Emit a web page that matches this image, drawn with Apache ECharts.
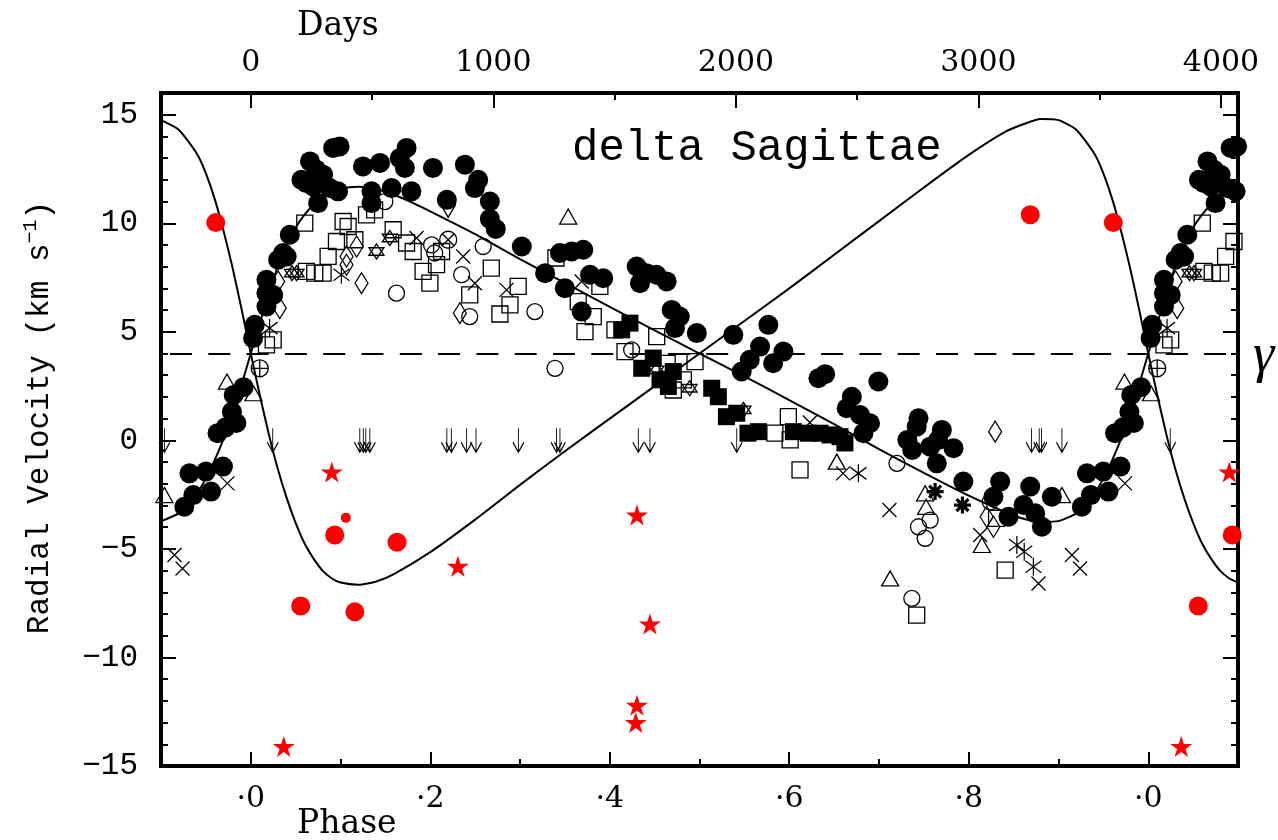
<!DOCTYPE html>
<html>
<head>
<meta charset="utf-8">
<script src="https://cdn.jsdelivr.net/npm/echarts@6/dist/echarts.min.js"></script>
<style>
  html, body { margin: 0; padding: 0; background: #fff; }
  #chart { width: 1278px; height: 840px; }
</style>
</head>
<body>
<div id="chart"></div>
<script>
// Orbital period (days) used for the upper Days axis and the systemic velocity gamma.
const periodDays = 3700;
const gammaVelocity = 4;

// Axis ticks
const phaseTicks = [0, 0.2, 0.4, 0.6, 0.8, 1.0];
const phaseMinorTicks = [0.1, 0.3, 0.5, 0.7, 0.9];
const dayTicks = [0, 1000, 2000, 3000, 4000];
const dayMinorTicks = [500, 1500, 2500, 3500];
const velocityTicks = [-15, -10, -5, 0, 5, 10, 15];
const velocityMinorTicks = [-14, -13, -12, -11, -9, -8, -7, -6, -4, -3, -2, -1,
                            1, 2, 3, 4, 6, 7, 8, 9, 11, 12, 13, 14];

// Orbit curves over one cycle: [phase, km/s]
const primaryCurve = [
  [0.00, 4.0], [0.01, 5.4], [0.02, 6.7], [0.03, 8.0], [0.04, 9.0], [0.05, 9.8],
  [0.06, 10.4], [0.07, 10.85], [0.08, 11.2], [0.09, 11.45], [0.10, 11.6], [0.12, 11.68],
  [0.14, 11.58], [0.16, 11.3], [0.18, 10.95], [0.20, 10.55], [0.25, 9.5], [0.30, 8.35],
  [0.35, 7.25], [0.40, 6.15], [0.45, 5.07], [0.50, 4.0], [0.55, 2.95], [0.60, 1.85],
  [0.65, 0.75], [0.70, -0.4], [0.75, -1.5], [0.80, -2.55], [0.84, -3.3], [0.86, -3.6],
  [0.88, -3.75], [0.90, -3.72], [0.92, -3.35], [0.94, -2.45], [0.95, -1.75], [0.96, -0.9],
  [0.97, 0.1], [0.98, 1.3], [0.99, 2.6]
];
const secondaryCurve = [
  [0.00, 4.0], [0.01, 2.1], [0.02, 0.3], [0.03, -1.3], [0.04, -2.65], [0.05, -3.8],
  [0.06, -4.75], [0.07, -5.45], [0.08, -6.0], [0.09, -6.35], [0.10, -6.55], [0.12, -6.65],
  [0.14, -6.5], [0.16, -6.15], [0.20, -5.15], [0.25, -3.65], [0.30, -2.05], [0.35, -0.5],
  [0.40, 1.0], [0.45, 2.5], [0.50, 4.0], [0.55, 5.5], [0.60, 7.0], [0.65, 8.55],
  [0.70, 10.1], [0.75, 11.65], [0.80, 13.15], [0.84, 14.2], [0.86, 14.55], [0.88, 14.8],
  [0.90, 14.75], [0.92, 14.3], [0.94, 13.2], [0.95, 12.3], [0.96, 11.1], [0.97, 9.6],
  [0.98, 7.9], [0.99, 6.0]
];

// Observations: [phase, km/s]
const filledCircles = [
  [0.8926, -2.6], [0.9317, -1.52], [0.926, -3.06], [0.936, -2.52], [0.950, -1.44], [0.9557, -2.36],
  [0.969, -1.21], [0.963, 0.33], [0.972, 0.6], [0.979, 1.32], [0.984, 0.8], [0.981, 2.09], [0.992, 2.45],
  [0.0026, 4.71], [0.0045, 5.32], [0.0175, 6.16], [0.0175, 6.78], [0.025, 6.70], [0.0175, 7.4],
  [0.0305, 8.32], [0.036, 8.63], [0.04, 8.47], [0.0435, 9.47],
  [0.0565, 12.0], [0.066, 12.85], [0.073, 12.47], [0.0806, 12.24], [0.0695, 11.7], [0.062, 11.85],
  [0.088, 11.62], [0.0973, 11.47], [0.075, 10.93], [0.0918, 13.47], [0.099, 13.54],
  [0.125, 12.62], [0.144, 12.78], [0.1345, 11.47], [0.1345, 10.93], [0.157, 11.62], [0.179, 11.47],
  [0.166, 13.0], [0.1736, 13.47], [0.1717, 12.55],
  [0.203, 12.55], [0.2185, 11.08], [0.2386, 12.7], [0.2534, 12.0], [0.2497, 11.62], [0.2664, 11.0],
  [0.2664, 10.2], [0.273, 9.74],
  [0.302, 8.93], [0.328, 7.70], [0.3445, 8.63], [0.3575, 8.70], [0.3705, 8.78], [0.350, 7.01],
  [0.378, 7.63], [0.3927, 7.47], [0.3687, 5.93], [0.430, 8.01], [0.441, 7.70], [0.452, 7.63],
  [0.4634, 7.32], [0.4337, 7.24], [0.469, 6.01], [0.478, 5.70], [0.4727, 5.17], [0.497, 4.94],
  [0.5377, 4.86], [0.5767, 5.32], [0.5675, 4.32], [0.556, 3.71], [0.5935, 4.09], [0.582, 3.55],
  [0.547, 3.17], [0.6325, 2.86], [0.64, 3.05], [0.6993, 2.71], [0.6697, 2.01], [0.664, 1.48],
  [0.6789, 1.17], [0.690, 0.79], [0.6826, 0.33],
  [0.744, 1.02], [0.742, 0.63], [0.7316, 0.02], [0.737, -0.44], [0.77, 0.48], [0.766, 0.02],
  [0.757, -0.29], [0.783, -0.36], [0.7644, -1.06], [0.794, -1.90], [0.835, -1.90], [0.8275, -2.6],
  [0.8443, -3.52], [0.8685, -2.13], [0.861, -2.98], [0.874, -3.36], [0.8815, -3.98]
];
const filledSquares = [
  [0.4133, 5.09], [0.4225, 5.40], [0.4356, 3.32], [0.4485, 3.79], [0.456, 2.79], [0.4653, 2.48],
  [0.4708, 3.17], [0.5136, 2.40], [0.521, 2.01], [0.530, 1.09], [0.5415, 1.25], [0.554, 0.33],
  [0.5656, 0.40], [0.6046, 0.40], [0.6213, 0.33], [0.6343, 0.33], [0.6455, 0.25], [0.6566, 0.17],
  [0.662, -0.12]
];
const openSquares = [
  [0.0602, 10.01], [0.1029, 10.08], [0.1085, 9.85], [0.129, 10.39], [0.138, 10.62], [0.1587, 9.70],
  [0.0955, 9.16], [0.116, 9.24], [0.0862, 8.47], [0.062, 7.78], [0.0713, 7.70], [0.0806, 7.70],
  [0.1736, 9.09], [0.181, 8.70], [0.192, 7.78], [0.1996, 7.24], [0.207, 8.09], [0.2126, 8.70],
  [0.244, 6.70], [0.268, 7.93], [0.2776, 5.82], [0.025, 4.63], [0.0175, 4.40], [0.298, 7.09],
  [0.2888, 6.24], [0.340, 8.40], [0.3649, 6.39], [0.3816, 5.70], [0.3724, 5.01], [0.389, 7.09],
  [0.4058, 5.09], [0.417, 4.09], [0.4523, 4.78], [0.464, 3.55], [0.4708, 2.32], [0.482, 2.79],
  [0.495, 3.63], [0.584, 0.33], [0.599, 1.09], [0.601, 0.02], [0.612, -1.36], [0.8406, -5.98],
  [0.742, -8.05], [0.831, -3.59]
];
const openCircles = [
  [0.1494, 11.0], [0.1624, 6.78], [0.2015, 9.0], [0.205, 8.63], [0.235, 7.63], [0.244, 5.70],
  [0.259, 8.93], [0.3166, 5.93], [0.339, 3.32], [0.4244, 4.17], [0.72, -1.06], [0.744, -3.98],
  [0.757, -3.67], [0.7514, -4.51], [0.7366, -7.28], [0.824, -2.83]
];
const circlePlus = [[0.01, 3.32]];
const circleCross = [[0.22, 9.24]];
const openTriangles = [
  [0.3537, 10.31], [0.9735, 2.71], [0.003, 2.17], [0.653, -0.98], [0.7514, -2.44], [0.7525, -3.06],
  [0.8146, -4.82], [0.7124, -6.36], [0.9038, -2.52]
];
const downTriangles = [[0.22, 10.55]];
const diamonds = [
  [0.118, 8.93], [0.1067, 8.47], [0.1067, 8.09], [0.1234, 7.24], [0.0305, 7.32], [0.0323, 6.09],
  [0.233, 5.86], [0.8294, 0.40], [0.82, -3.52], [0.8275, -3.98]
];
const crosses = [
  [0.623, 0.82], [0.660, -1.52], [0.7116, -3.21], [0.8127, -4.36], [0.8777, -6.59], [0.915, -5.28],
  [0.924, -5.9], [0.974, -1.98], [0.1847, 9.32], [0.2367, 8.47], [0.2497, 7.24], [0.285, 6.93],
  [0.3687, 7.32]
];
const asterisks = [[0.677, -1.52], [0.8536, -4.82], [0.8618, -5.13], [0.872, -5.82], [0.101, 7.63], [0.021, 5.17]];
const boldAsterisks = [[0.7625, -2.36], [0.793, -2.98]];
const hexagrams = [[0.046, 7.70], [0.051, 7.70], [0.14, 8.70], [0.155, 9.32], [0.452, 3.25], [0.489, 2.40], [0.549, 1.40]];
// Upper limits, drawn as arrows at zero velocity
const limitPhases = [0.0245, 0.1215, 0.1254, 0.1282, 0.1327, 0.2185, 0.2235, 0.2405, 0.251,
                     0.2982, 0.3407, 0.3445, 0.4318, 0.4448, 0.5415, 0.870, 0.8785, 0.881, 0.9038];
const redCircles = [[0.961, 10.03], [0.0557, -7.63], [0.0936, -4.36], [0.116, -7.9], [0.163, -4.69], [0.8685, 10.39]];
const redSmall = [[0.106, -3.57]];
const redStars = [[0.0368, -14.1], [0.0903, -1.46], [0.2308, -5.8], [0.4303, -3.44], [0.4448, -8.46], [0.4303, -12.2], [0.429, -13.0]];

// Repeat points near the cycle ends so the plot covers phase -0.1 .. 1.1
function folded(points) {
  const out = [];
  points.forEach(p => {
    out.push(p);
    if (p[0] <= 0.1 + 1e-9) out.push([p[0] + 1, p[1]]);
    if (p[0] >= 0.9 - 1e-9) out.push([p[0] - 1, p[1]]);
  });
  return out;
}
function foldedCurve(points) {
  return folded(points).sort((a, b) => a[0] - b[0]);
}

const BLACK = '#000';
const RED = '#ff0000';
const openStyle = { color: 'transparent', borderColor: BLACK, borderWidth: 1.3, opacity: 1 };

const SYM = {
  cross: 'path://M0 0L10 10M10 0L0 10',
  asterisk: 'path://M5 0L5 12M0 2L10 10M10 2L0 10',
  bold: 'path://M5 0L5 10M0 5L10 5M1.5 1.5L8.5 8.5M8.5 1.5L1.5 8.5',
  hexagram: 'path://M5 0L9.33 7.5L0.67 7.5Z M5 10L0.67 2.5L9.33 2.5Z',
  circlePlus: 'path://M10 5A5 5 0 1 1 0 5A5 5 0 1 1 10 5Z M5 0L5 10M0 5L10 5',
  circleCross: 'path://M10 5A5 5 0 1 1 0 5A5 5 0 1 1 10 5Z M1.46 1.46L8.54 8.54M8.54 1.46L1.46 8.54',
  downTriangle: 'path://M0 0L10 0L5 9Z',
  arrow: 'path://M5 0L5 24M0.5 14L5 24L9.5 14',
  star: 'path://M50 0L61.2 34.5L97.6 34.5L68.2 55.9L79.4 90.5L50 69.1L20.6 90.5L31.8 55.9L2.4 34.5L38.8 34.5Z'
};

function scatter(name, data, symbol, size, style, z) {
  return {
    type: 'scatter', name, data: folded(data), symbol, symbolSize: size,
    itemStyle: Object.assign({ opacity: 1 }, style), silent: true, z, xAxisIndex: 0, yAxisIndex: 0
  };
}

const serif = 'DejaVu Serif';
const mono = 'Liberation Mono';

const tickStyle = { color: BLACK, width: 2 };
const noLine = { show: false, onZero: false };
const noSplit = { show: false };

const chart = echarts.init(document.getElementById('chart'), null, { renderer: 'canvas' });

chart.setOption({
  animation: false,
  backgroundColor: '#fff',
  title: [
    { text: 'delta Sagittae', left: 572, top: 126, padding: 0,
      textStyle: { fontFamily: mono, fontSize: 44, fontWeight: 'normal', color: BLACK } },
    { text: 'Days', left: 297, top: 10, padding: 0,
      textStyle: { fontFamily: serif, fontSize: 33, fontWeight: 'normal', color: BLACK } },
    { text: 'Phase', left: 297, top: 808, padding: 0,
      textStyle: { fontFamily: serif, fontSize: 33, fontWeight: 'normal', color: BLACK } },
    { text: 'γ', left: 1253, top: 330, padding: 0,
      textStyle: { fontFamily: 'Liberation Serif', fontStyle: 'italic', fontSize: 54, fontWeight: 'normal', color: BLACK } }
  ],
  grid: { left: 161, top: 93, right: 40, bottom: 74, show: true, borderColor: BLACK, borderWidth: 4,
          backgroundColor: 'transparent' },
  xAxis: [
    { type: 'value', position: 'bottom', min: -0.1, max: 1.1, axisLine: noLine, splitLine: noSplit,
      axisTick: { inside: true, length: 14, customValues: phaseTicks, lineStyle: tickStyle },
      axisLabel: { customValues: phaseTicks, margin: 18, color: BLACK, fontFamily: serif, fontSize: 30,
                   formatter: v => '·' + (Math.round(v * 10) % 10) } },
    { type: 'value', position: 'bottom', min: -0.1, max: 1.1, axisLine: noLine, splitLine: noSplit,
      axisTick: { inside: true, length: 7, customValues: phaseMinorTicks, lineStyle: tickStyle },
      axisLabel: { show: false } },
    { type: 'value', position: 'top', min: -0.1 * periodDays, max: 1.1 * periodDays,
      axisLine: noLine, splitLine: noSplit,
      axisTick: { inside: true, length: 15, customValues: dayTicks, lineStyle: tickStyle },
      axisLabel: { customValues: dayTicks, margin: 15, color: BLACK, fontFamily: serif, fontSize: 30,
                   formatter: v => String(v) } },
    { type: 'value', position: 'top', min: -0.1 * periodDays, max: 1.1 * periodDays,
      axisLine: noLine, splitLine: noSplit,
      axisTick: { inside: true, length: 7, customValues: dayMinorTicks, lineStyle: tickStyle },
      axisLabel: { show: false } }
  ],
  yAxis: [
    { type: 'value', position: 'left', min: -15, max: 16, axisLine: noLine, splitLine: noSplit,
      axisTick: { inside: true, length: 15, customValues: velocityTicks, lineStyle: tickStyle },
      axisLabel: { customValues: velocityTicks, margin: 23, color: BLACK, fontFamily: mono, fontSize: 31,
                   formatter: v => (v < 0 ? '−' + Math.abs(v) : String(v)) },
      name: 'Radial Velocity (km s{sup|−1})', nameLocation: 'middle', nameRotate: 90, nameGap: 102,
      nameTextStyle: { fontFamily: mono, fontSize: 31, color: BLACK, padding: [0, 0, 0, 24],
                       rich: { sup: { fontFamily: mono, fontSize: 20, verticalAlign: 'top', padding: [0, 0, 18, 0] } } } },
    { type: 'value', position: 'left', min: -15, max: 16, axisLine: noLine, splitLine: noSplit,
      axisTick: { inside: true, length: 7, customValues: velocityMinorTicks, lineStyle: tickStyle },
      axisLabel: { show: false } },
    { type: 'value', position: 'right', min: -15, max: 16, axisLine: noLine, splitLine: noSplit,
      axisTick: { inside: true, length: 15, customValues: velocityTicks, lineStyle: tickStyle },
      axisLabel: { show: false } },
    { type: 'value', position: 'right', min: -15, max: 16, axisLine: noLine, splitLine: noSplit,
      axisTick: { inside: true, length: 7, customValues: velocityMinorTicks, lineStyle: tickStyle },
      axisLabel: { show: false } }
  ],
  series: [
    { type: 'line', name: 'primary orbit', data: foldedCurve(primaryCurve), symbol: 'none', smooth: 0.2,
      lineStyle: { color: BLACK, width: 2 }, silent: true, z: 2,
      markLine: { silent: true, symbol: 'none', label: { show: false },
                  lineStyle: { color: BLACK, width: 2, type: [22, 16.3], dashOffset: 29.3 },
                  data: [{ yAxis: gammaVelocity }] } },
    { type: 'line', name: 'secondary orbit', data: foldedCurve(secondaryCurve), symbol: 'none', smooth: 0.2,
      lineStyle: { color: BLACK, width: 2 }, silent: true, z: 2 },
    scatter('open squares', openSquares, 'rect', 16, openStyle, 3),
    scatter('open circles', openCircles, 'circle', 16, openStyle, 3),
    scatter('circle plus', circlePlus, SYM.circlePlus, 17, openStyle, 3),
    scatter('circle cross', circleCross, SYM.circleCross, 17, openStyle, 3),
    scatter('triangles', openTriangles, 'triangle', [17, 15], openStyle, 3),
    scatter('down triangles', downTriangles, SYM.downTriangle, [14, 12], openStyle, 3),
    scatter('diamonds', diamonds, 'diamond', [13, 21], openStyle, 3),
    scatter('crosses', crosses, SYM.cross, 14, openStyle, 3),
    scatter('asterisks', asterisks, SYM.asterisk, [16, 18], openStyle, 3),
    scatter('hexagrams', hexagrams, SYM.hexagram, 15, openStyle, 3),
    scatter('limits', limitPhases.map(p => [p, 0]), SYM.arrow, [11, 24], openStyle, 4),
    scatter('filled squares', filledSquares, 'rect', 17, { color: BLACK }, 5),
    scatter('filled circles', filledCircles, 'circle', 20, { color: BLACK }, 6),
    scatter('bold asterisks', boldAsterisks, SYM.bold, 17, { color: 'transparent', borderColor: BLACK, borderWidth: 3.2 }, 6),
    scatter('red circles', redCircles, 'circle', 19, { color: RED }, 7),
    scatter('red small', redSmall, 'circle', 10, { color: RED }, 7),
    scatter('red stars', redStars, SYM.star, [22, 21], { color: RED }, 7)
  ]
});
</script>
</body>
</html>
